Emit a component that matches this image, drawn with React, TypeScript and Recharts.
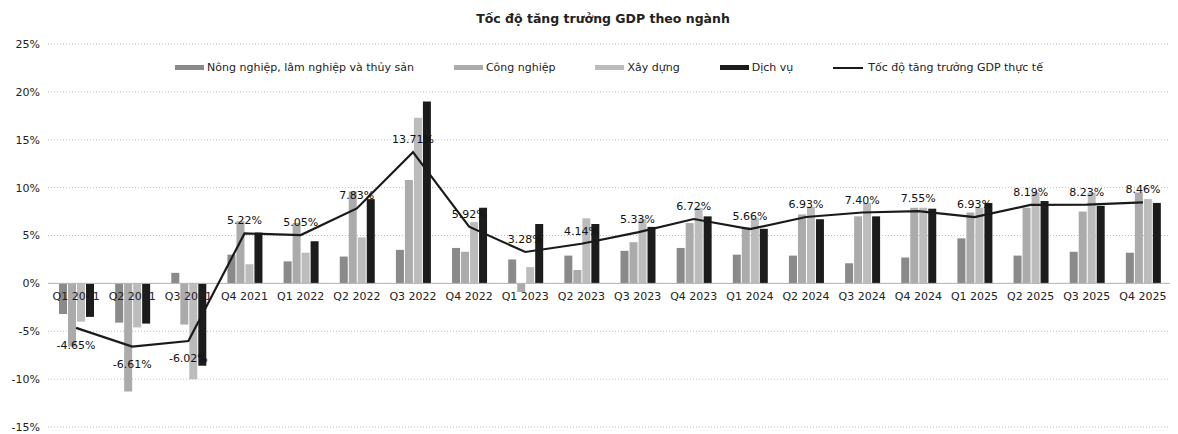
import React from "react";
import {
  ComposedChart,
  Bar,
  Line,
  XAxis,
  YAxis,
  CartesianGrid,
  LabelList,
  ReferenceLine,
} from "recharts";

const quarters = [
  "Q1 2021", "Q2 2021", "Q3 2021", "Q4 2021",
  "Q1 2022", "Q2 2022", "Q3 2022", "Q4 2022",
  "Q1 2023", "Q2 2023", "Q3 2023", "Q4 2023",
  "Q1 2024", "Q2 2024", "Q3 2024", "Q4 2024",
  "Q1 2025", "Q2 2025", "Q3 2025", "Q4 2025",
];
const agriculture = [-3.2, -4.1, 1.1, 3.0, 2.3, 2.8, 3.5, 3.7, 2.5, 2.9, 3.4, 3.7, 3.0, 2.9, 2.1, 2.7, 4.7, 2.9, 3.3, 3.2];
const industry = [-6.6, -11.3, -4.3, 6.5, 6.3, 9.6, 10.8, 3.3, -0.9, 1.4, 4.3, 6.3, 5.9, 7.2, 7.0, 7.9, 7.4, 7.9, 7.5, 9.5];
const construction = [-4.0, -4.6, -10.0, 2.0, 3.2, 4.8, 17.3, 6.4, 1.7, 6.8, 6.7, 7.9, 6.8, 8.0, 8.4, 7.9, 7.9, 9.5, 9.5, 8.8];
const services = [-3.5, -4.2, -8.6, 5.3, 4.4, 8.8, 19.0, 7.9, 6.2, 6.2, 5.9, 7.0, 5.7, 6.7, 7.0, 7.8, 8.4, 8.6, 8.1, 8.4];
const gdpGrowth = [-4.65, -6.61, -6.02, 5.22, 5.05, 7.83, 13.71, 5.92, 3.28, 4.14, 5.33, 6.72, 5.66, 6.93, 7.4, 7.55, 6.93, 8.19, 8.23, 8.46];
const yTicks = [-15, -10, -5, 0, 5, 10, 15, 20, 25];

const barSeries = [
  { key: "agriculture", name: "Nông nghiệp, lâm nghiệp và thủy sản", color: "#8a8a8a" },
  { key: "industry", name: "Công nghiệp", color: "#ababab" },
  { key: "construction", name: "Xây dựng", color: "#bcbcbc" },
  { key: "services", name: "Dịch vụ", color: "#1c1c1c" },
];
const lineName = "Tốc độ tăng trưởng GDP thực tế";

const data = quarters.map((quarter, i) => ({
  quarter,
  agriculture: agriculture[i],
  industry: industry[i],
  construction: construction[i],
  services: services[i],
  gdp: gdpGrowth[i],
}));

const W = 1170;
const H = 426;
const margin = { top: 36, right: 7, bottom: 6, left: 0 };
const FONT = "'DejaVu Sans', sans-serif";
// y of the 0% line inside the svg, used to hang the quarter labels on it
const zeroY = margin.top + ((H - margin.top - margin.bottom - 1) * 25) / 40;

const QuarterTick = (props: any) => {
  const { x, payload } = props;
  return (
    <text x={x} y={zeroY + 17} textAnchor="middle" fontSize={11} fontFamily={FONT} fill="#222">
      {payload.value}
    </text>
  );
};

const GrowthLabel = (props: any) => {
  const { x, y, value } = props;
  const v = Number(value);
  return (
    <text
      x={x}
      y={v < 0 ? y + 21 : y - 9}
      textAnchor="middle"
      fontSize={11}
      fontFamily={FONT}
      fill="#111"
    >
      {v.toFixed(2) + "%"}
    </text>
  );
};

const ChartLegend = () => (
  <div
    style={{
      position: "absolute",
      top: 53,
      left: 0,
      width: W,
      display: "flex",
      justifyContent: "center",
      alignItems: "center",
      gap: 40,
      paddingLeft: 32,
      boxSizing: "border-box",
      fontFamily: FONT,
      fontSize: 11,
      color: "#222",
      zIndex: 2,
    }}
  >
    {barSeries.map((s) => (
      <div key={s.key} style={{ display: "flex", alignItems: "center", gap: 3 }}>
        <span style={{ display: "inline-block", width: 29, height: 5, background: s.color }} />
        <span>{s.name}</span>
      </div>
    ))}
    <div style={{ display: "flex", alignItems: "center", gap: 5 }}>
      <span style={{ display: "inline-block", width: 30, height: 2, background: "#1a1a1a" }} />
      <span>{lineName}</span>
    </div>
  </div>
);

export default function App() {
  return (
    <div style={{ position: "relative", width: W, height: H }}>
      <div
        style={{
          position: "absolute",
          top: 3,
          left: 0,
          width: W,
          paddingLeft: 20,
          boxSizing: "border-box",
          textAlign: "center",
          fontFamily: FONT,
          fontWeight: "bold",
          fontSize: 12.5,
          color: "#222",
          zIndex: 2,
        }}
      >
        Tốc độ tăng trưởng GDP theo ngành
      </div>
      <ChartLegend />
      <ComposedChart width={W} height={H} data={data} margin={margin} barGap={1} barCategoryGap="19%">
        <CartesianGrid vertical={false} strokeDasharray="1 2" stroke="#bdbdbd" />
        <XAxis
          dataKey="quarter"
          height={1}
          axisLine={false}
          tickLine={false}
          interval={0}
          tick={<QuarterTick />}
        />
        <YAxis
          width={40}
          domain={[-15, 25]}
          ticks={yTicks}
          axisLine={false}
          tickLine={false}
          tickFormatter={(v) => v + "%"}
          tick={{ fontSize: 11, fontFamily: FONT, fill: "#222" }}
        />
        <ReferenceLine y={0} stroke="#b5b5b5" />
        {barSeries.map((s) => (
          <Bar
            key={s.key}
            dataKey={s.key}
            name={s.name}
            fill={s.color}
            barSize={8}
            isAnimationActive={false}
          />
        ))}
        <Line
          type="linear"
          dataKey="gdp"
          name={lineName}
          stroke="#1a1a1a"
          strokeWidth={2.2}
          dot={false}
          isAnimationActive={false}
        >
          <LabelList dataKey="gdp" content={<GrowthLabel />} />
        </Line>
      </ComposedChart>
    </div>
  );
}
